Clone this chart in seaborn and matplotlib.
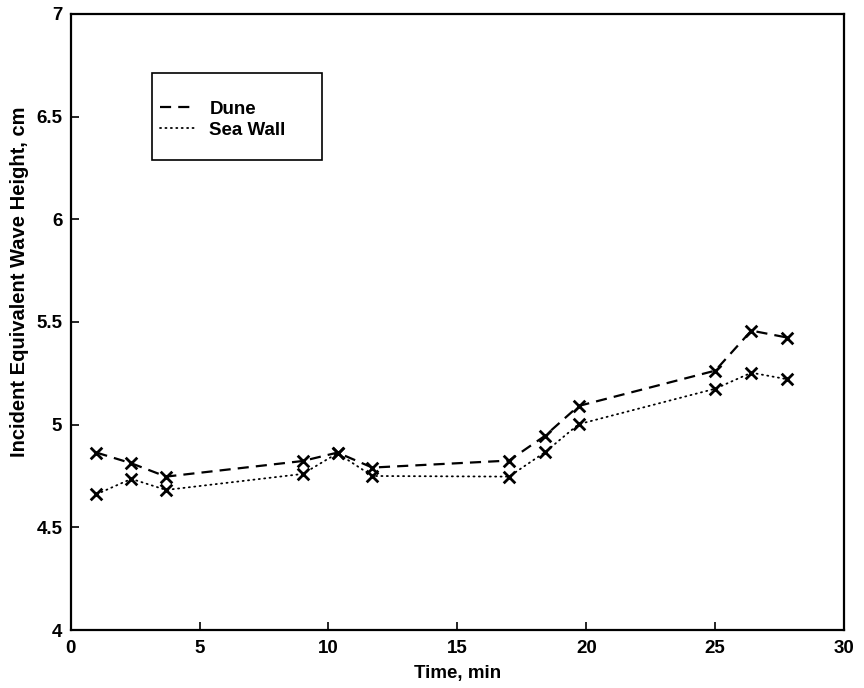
import matplotlib
matplotlib.use("Agg")
import matplotlib.pyplot as plt
from matplotlib.patches import Rectangle
import seaborn as sns
import pandas as pd

# Sample times (minutes) and incident equivalent wave heights (cm)
time_min = [1.0, 2.35, 3.7, 9.0, 10.35, 11.7, 17.0, 18.4, 19.7, 25.0, 26.4, 27.8]
dune = [4.864, 4.812, 4.747, 4.823, 4.864, 4.791, 4.825, 4.946, 5.091, 5.263, 5.458, 5.424]
sea_wall = [4.661, 4.736, 4.682, 4.760, 4.861, 4.750, 4.747, 4.866, 5.002, 5.175, 5.253, 5.221]

x_ticks = [0, 5, 10, 15, 20, 25, 30]
y_ticks = [4, 4.5, 5, 5.5, 6, 6.5, 7]
y_tick_labels = ["4", "4.5", "5", "5.5", "6", "6.5", "7"]

sns.set_theme(style="white")
plt.rcParams["font.family"] = ["Liberation Sans", "DejaVu Sans"]
plt.rcParams["font.weight"] = "bold"
plt.rcParams["text.color"] = "black"
plt.rcParams["axes.labelcolor"] = "black"
plt.rcParams["xtick.color"] = "black"
plt.rcParams["ytick.color"] = "black"

df_dune = pd.DataFrame({"t": time_min, "h": dune})
df_sea = pd.DataFrame({"t": time_min, "h": sea_wall})

fig = plt.figure(figsize=(8.64, 6.88), dpi=100)
ax = fig.add_axes([0.0818, 0.0843, 0.8952, 0.8954])

sns.lineplot(data=df_dune, x="t", y="h", ax=ax, color="black", lw=1.6,
             label="Dune", sort=False)
sns.lineplot(data=df_sea, x="t", y="h", ax=ax, color="black", lw=1.3,
             label="Sea Wall", sort=False)
ax.lines[0].set_dashes([5, 3.2])
ax.lines[1].set_dashes([0.6, 2.4])
ax.lines[1].set_dash_capstyle("round")

sns.scatterplot(data=df_dune, x="t", y="h", ax=ax, marker="x", color="black",
                s=70, linewidth=2.0, legend=False, zorder=3)
sns.scatterplot(data=df_sea, x="t", y="h", ax=ax, marker="x", color="black",
                s=70, linewidth=2.0, legend=False, zorder=3)

ax.set_xlim(0, 30)
ax.set_ylim(4, 7)
ax.set_xticks(x_ticks)
ax.set_yticks(y_ticks)
ax.set_yticklabels(y_tick_labels)
ax.tick_params(direction="in", length=6, width=1.2, labelsize=13.5,
               colors="black", top=False, right=False,
               bottom=True, left=True)
ax.tick_params(axis="x", pad=7)
ax.tick_params(axis="y", pad=6)
for lab in ax.get_xticklabels() + ax.get_yticklabels():
    lab.set_fontweight("bold")
for sp in ax.spines.values():
    sp.set_color("black")
    sp.set_linewidth(1.6)

ax.set_xlabel("Time, min", fontsize=13.5, fontweight="bold", labelpad=6)
ax.set_ylabel("Incident Equivalent Wave Height, cm", fontsize=14.5,
              fontweight="bold")
ax.yaxis.set_label_coords(-0.054, 0.565)

# Legend frame drawn separately so its padding can differ per side
ax.add_patch(Rectangle((0.105, 0.763), 0.220, 0.141, transform=ax.transAxes,
                       fill=True, facecolor="white", edgecolor="black",
                       lw=1.2, zorder=4))
leg = ax.legend(loc="upper left", bbox_to_anchor=(0.115, 0.859), frameon=False,
                fontsize=13.5, handlelength=1.85, handletextpad=0.8,
                borderpad=0, labelspacing=0.2, borderaxespad=0)
leg.set_zorder(5)
for t in leg.get_texts():
    t.set_fontweight("bold")

fig.savefig("out.png", dpi=100, facecolor="white")
